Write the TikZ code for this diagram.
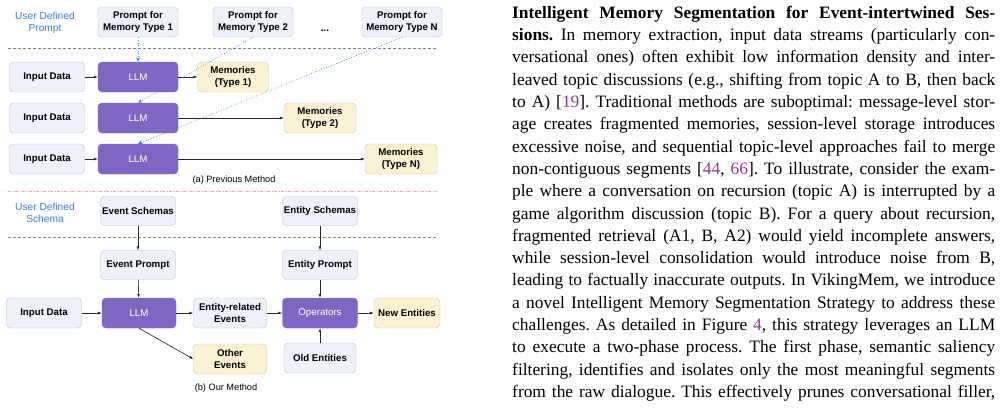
\documentclass[tikz,border=0pt]{standalone}
\usepackage{fontspec}
\setmainfont{Liberation Serif}
\setsansfont{Liberation Sans}
\usetikzlibrary{arrows.meta}

\definecolor{boxfill}{HTML}{EEF1F9}
\definecolor{boxline}{HTML}{B9BEC9}
\definecolor{llmfill}{HTML}{8066C3}
\definecolor{memfill}{HTML}{FCF1D3}
\definecolor{memline}{HTML}{C9C3B0}
\definecolor{userblue}{HTML}{3D7BDB}
\definecolor{sepgray}{HTML}{7E8593}
\definecolor{seppink}{HTML}{F2A0A0}
\definecolor{citepurple}{HTML}{8A3B8F}

\tikzset{
  block/.style={draw=boxline, fill=boxfill, rounded corners=4pt, minimum width=75pt,
    minimum height=30pt, align=center, inner sep=1pt,
    font=\sffamily\bfseries\fontsize{9.7}{11.5}\selectfont},
  llm/.style={block, draw=llmfill, fill=llmfill, text=white,
    font=\sffamily\fontsize{9.7}{11.5}\selectfont},
  mem/.style={block, fill=memfill, draw=memline},
  flow/.style={-{Latex[length=4pt,width=3pt]}, line width=0.6pt, black!85},
  hint/.style={-{Stealth[length=4.5pt,width=3.5pt]}, dotted, line width=0.7pt, userblue},
  userlabel/.style={text=userblue, align=center, font=\sffamily\fontsize{10.2}{11.5}\selectfont},
  caption/.style={font=\sffamily\fontsize{9.2}{11}\selectfont}
}

\newcommand{\citenum}[1]{\textcolor{citepurple}{#1}}

\begin{document}
\begin{tikzpicture}[x=1pt,y=-1pt]
    \useasboundingbox (0,0) rectangle (1001,407);

    % (a) Previous method: prompts
    \node[userlabel] (userprompt) at (45,23) {User Defined\\Prompt};
    \node[block, minimum width=80pt] (prompt1) at (138,22) {Prompt for\\Memory Type 1};
    \node[block, minimum width=80pt] (prompt2) at (253,22) {Prompt for\\Memory Type 2};
    \node[block, minimum width=80pt] (promptN) at (402,22) {Prompt for\\Memory Type N};
    \node[font=\sffamily\bfseries] (dots) at (325,31) {...};
    \draw[sepgray, dashed, dash pattern=on 3pt off 2pt, line width=0.6pt] (8,48) -- (437,48);

    % (a) Previous method: three rows
    \node[block] (input1) at (47,77) {Input Data};
    \node[block] (input2) at (47,118) {Input Data};
    \node[block] (input3) at (47,159) {Input Data};
    \node[llm, minimum width=80pt] (llm1) at (138,77) {LLM};
    \node[llm, minimum width=80pt] (llm2) at (138,118) {LLM};
    \node[llm, minimum width=80pt] (llm3) at (138,159) {LLM};
    \node[mem, minimum width=71pt] (mem1) at (233,77) {Memories\\(Type 1)};
    \node[mem, minimum width=72pt] (mem2) at (320,118) {Memories\\(Type 2)};
    \node[mem, minimum width=72pt] (mem3) at (401,159) {Memories\\(Type N)};

    \draw[flow] (input1) -- (llm1);
    \draw[flow] (input3) -- (llm3);
    \draw[flow] (llm1) -- (mem1);
    \draw[flow] (llm2) -- (mem2);
    \draw[flow] (llm3) -- (mem3);
    \draw[hint] (prompt1.south) -- (llm1.north);
    \draw[hint] (prompt2.south) -- (llm2.north);
    \draw[hint] (promptN.south) -- (llm3.north);

    \node[caption] (capa) at (234,180) {(a) Previous Method};
    \draw[seppink, dash pattern=on 3pt off 1.5pt on 1pt off 1.5pt, line width=0.6pt] (8,191) -- (437,191);

    % (b) Our method: schemas
    \node[userlabel] (userschema) at (45,213) {User Defined\\Schema};
    \node[block, minimum height=29pt] (evschema) at (138,211) {Event Schemas};
    \node[block, minimum height=29pt] (enschema) at (320,211) {Entity Schemas};
    \draw[sepgray, dashed, dash pattern=on 3pt off 2pt, line width=0.6pt] (8,237) -- (437,237);

    % (b) Our method: event branch
    \node[block, minimum height=29pt] (evprompt) at (138,265) {Event Prompt};
    \node[block] (inputb) at (44,313) {Input Data};
    \node[llm, minimum width=74pt] (llmb) at (139,313) {LLM};
    \node[block, minimum width=73pt] (related) at (230,313) {Entity-related\\Events};
    \node[mem, minimum width=73pt] (other) at (230,359) {Other\\Events};

    % (b) Our method: entity branch
    \node[block, minimum height=29pt] (enprompt) at (320,265) {Entity Prompt};
    \node[llm] (operators) at (320,313) {Operators};
    \node[mem, minimum width=66pt] (newent) at (407,313) {New Entities};
    \node[block, minimum width=72pt] (oldent) at (320,358) {Old Entities};

    \draw[flow] (evschema) -- (evprompt);
    \draw[flow] (evprompt) -- (llmb);
    \draw[flow] (inputb) -- (llmb);
    \draw[flow] (llmb) -- (related);
    \draw[flow] (llmb.south) -- (other.west);
    \draw[flow] (enschema) -- (enprompt);
    \draw[flow] (enprompt) -- (operators);
    \draw[flow] (related) -- (operators);
    \draw[flow] (operators) -- (newent);
    \draw[flow] (oldent) -- (operators);

    \node[caption] (capb) at (226,388) {(b) Our Method};

    % Body text
    \node[anchor=base west, inner sep=0pt] (para) at (512,18.3) {\parbox[t]{483pt}{%
      \fontsize{17.4}{22.3}\selectfont\frenchspacing\parfillskip=0pt\hyphenpenalty=10000
      \textbf{Intelligent Memory Segmentation for Event-intertwined Ses-}\linebreak
      \textbf{sions.} In memory extraction, input data streams (particularly con-\linebreak
      versational ones) often exhibit low information density and inter-\linebreak
      leaved topic discussions (e.g., shifting from topic A to B, then back\linebreak
      to A) [\citenum{19}]. Traditional methods are suboptimal: message-level stor-\linebreak
      age creates fragmented memories, session-level storage introduces\linebreak
      excessive noise, and sequential topic-level approaches fail to merge\linebreak
      non-contiguous segments [\citenum{44}, \citenum{66}]. To illustrate, consider the exam-\linebreak
      ple where a conversation on recursion (topic A) is interrupted by a\linebreak
      game algorithm discussion (topic B). For a query about recursion,\linebreak
      fragmented retrieval (A1, B, A2) would yield incomplete answers,\linebreak
      while session-level consolidation would introduce noise from B,\linebreak
      leading to factually inaccurate outputs. In VikingMem, we introduce\linebreak
      a novel Intelligent Memory Segmentation Strategy to address these\linebreak
      challenges. As detailed in Figure \citenum{4}, this strategy leverages an LLM\linebreak
      to execute a two-phase process. The first phase, semantic saliency\linebreak
      filtering, identifies and isolates only the most meaningful segments\linebreak
      from the raw dialogue. This effectively prunes conversational filler,}};
\end{tikzpicture}
\end{document}
